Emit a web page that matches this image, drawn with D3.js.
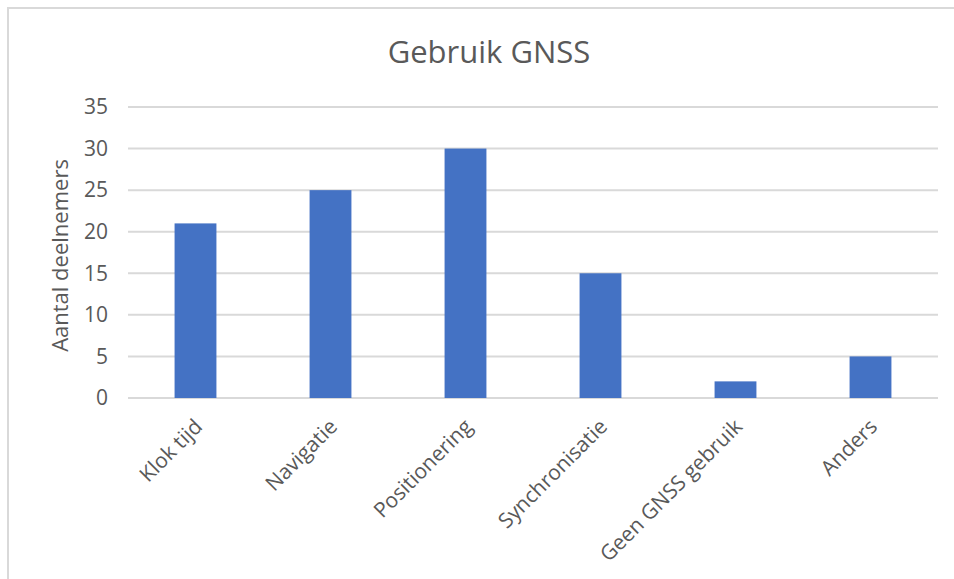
<!DOCTYPE html>
<html>
<head>
<meta charset="utf-8">
<script src="https://cdn.jsdelivr.net/npm/d3@7"></script>
<style>
  body { margin: 0; background: #fff; }
  text { font-family: "Open Sans", "Noto Sans", sans-serif; fill: #595959; }
</style>
</head>
<body>
<div class="main-container"></div>
<script>
// chart data
const categories = ['Klok tijd', 'Navigatie', 'Positionering', 'Synchronisatie', 'Geen GNSS gebruik', 'Anders'];
const values = [21, 25, 30, 15, 2, 5];
const yTicks = [0, 5, 10, 15, 20, 25, 30, 35];
const title = 'Gebruik GNSS';
const yLabel = 'Aantal deelnemers';

const width = 954, height = 579;
const margin = {t: 107, r: 16, b: 181, l: 128};

const svg = d3.select('.main-container')
    .append('svg')
    .attr('width', width)
    .attr('height', height);

// chart border (only top and left visible)
svg.append('path')
    .attr('d', `M8,${height} L8,8 L${width},8`)
    .attr('fill', 'none')
    .attr('stroke', '#d9d9d9')
    .attr('stroke-width', 2);

const x = d3.scaleBand()
    .domain(categories)
    .range([margin.l, width - margin.r])
    .paddingInner(0.69)
    .paddingOuter(0.345);

const y = d3.scaleLinear()
    .domain([0, 35])
    .range([height - margin.b, margin.t]);

// gridlines
svg.append('g')
    .selectAll('line')
    .data(yTicks)
    .join('line')
    .attr('x1', margin.l)
    .attr('x2', width - margin.r)
    .attr('y1', d => y(d))
    .attr('y2', d => y(d))
    .attr('stroke', '#d9d9d9')
    .attr('stroke-width', 2);

// y axis labels
const yAxis = svg.append('g')
    .attr('transform', `translate(${margin.l - 20},0)`)
    .call(d3.axisLeft(y).tickValues(yTicks).tickSize(0).tickPadding(0));
yAxis.select('.domain').remove();
yAxis.selectAll('text')
    .attr('font-size', 21)
    .attr('font-family', '"Open Sans", sans-serif')
    .attr('fill', '#595959');

// bars
svg.append('g')
    .selectAll('rect')
    .data(values)
    .join('rect')
    .attr('x', (d, i) => x(categories[i]))
    .attr('y', d => y(d))
    .attr('width', x.bandwidth())
    .attr('height', d => y(0) - y(d))
    .attr('fill', '#4472c4');

// x axis labels
const xAxis = svg.append('g')
    .attr('transform', `translate(0,${y(0)})`)
    .call(d3.axisBottom(x).tickSize(0).tickPadding(0));
xAxis.select('.domain').remove();
xAxis.selectAll('text')
    .attr('font-size', 21)
    .attr('font-family', '"Open Sans", sans-serif')
    .attr('fill', '#595959')
    .attr('text-anchor', 'end')
    .attr('dy', null)
    .attr('y', 0)
    .attr('transform', 'translate(8,30) rotate(-45)');

// title
svg.append('text')
    .attr('x', 489)
    .attr('y', 63)
    .attr('text-anchor', 'middle')
    .attr('font-size', 31)
    .text(title);

// y axis title
svg.append('text')
    .attr('transform', `translate(68,${(y(0) + y(35)) / 2 + 3}) rotate(-90)`)
    .attr('text-anchor', 'middle')
    .attr('font-size', 22)
    .text(yLabel);
</script>
</body>
</html>
